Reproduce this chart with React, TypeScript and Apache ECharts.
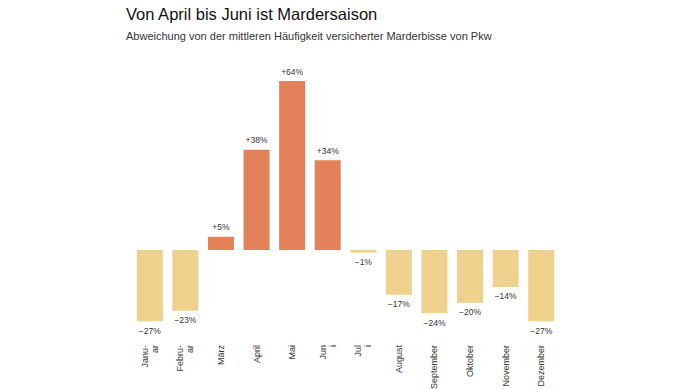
import React, { useEffect, useRef } from "react";
import * as echarts from "echarts";

const months = [
  "Janu-\nar",
  "Febru-\nar",
  "März",
  "April",
  "Mai",
  "Jun\ni",
  "Jul\ni",
  "August",
  "September",
  "Oktober",
  "November",
  "Dezember",
];
const deviation = [-27, -23, 5, 38, 64, 34, -1, -17, -24, -20, -14, -27];

const titleText = "Von April bis Juni ist Mardersaison";
const subtitleText = "Abweichung von der mittleren Häufigkeit versicherter Marderbisse von Pkw";

const POS_COLOR = "#e2815a";
const NEG_COLOR = "#efd08c";
const FONT = "'Liberation Sans', Arial, Helvetica, sans-serif";

export default function App() {
  const ref = useRef<HTMLDivElement>(null);
  useEffect(() => {
    if (!ref.current) return;
    const chart = echarts.init(ref.current, undefined, { renderer: "svg" });
    chart.setOption({
      animation: false,
      backgroundColor: "#ffffff",
      title: [
        {
          text: titleText,
          left: 126,
          top: 5,
          padding: 0,
          textStyle: { fontFamily: FONT, fontSize: 16.5, fontWeight: "normal", color: "#111" },
        },
        {
          text: subtitleText,
          left: 126,
          top: 30,
          padding: 0,
          textStyle: { fontFamily: FONT, fontSize: 11, fontWeight: "normal", color: "#333" },
        },
      ],
      grid: {
        left: 132,
        width: 427,
        top: 81,
        height: 242.9,
        containLabel: false,
        outerBoundsMode: "none",
      },
      xAxis: {
        type: "category",
        data: months,
        axisLine: { show: false, onZero: false },
        axisTick: { show: false },
        axisLabel: {
          rotate: 90,
          margin: 21,
          interval: 0,
          fontFamily: FONT,
          fontSize: 9,
          color: "#333",
          lineHeight: 10,
        },
      },
      yAxis: {
        type: "value",
        min: -28,
        max: 64,
        interval: 4,
        show: false,
        splitLine: { show: false },
      },
      series: [
        {
          type: "bar",
          barWidth: 26,
          data: deviation.map((v) => ({
            value: v,
            itemStyle: { color: v > 0 ? POS_COLOR : NEG_COLOR },
            label: { position: v > 0 ? "top" : "bottom" },
          })),
          label: {
            show: true,
            distance: 5,
            fontFamily: FONT,
            fontSize: 8.5,
            color: "#333",
            formatter: (p: any) =>
              p.value > 0 ? `+${p.value}%` : `\u2212${Math.abs(p.value)}%`,
          },
        },
      ],
    });
    return () => chart.dispose();
  }, []);
  return (
    <div
      ref={ref}
      style={{ position: "fixed", left: 0, top: 0, width: 690, height: 389 }}
    />
  );
}
